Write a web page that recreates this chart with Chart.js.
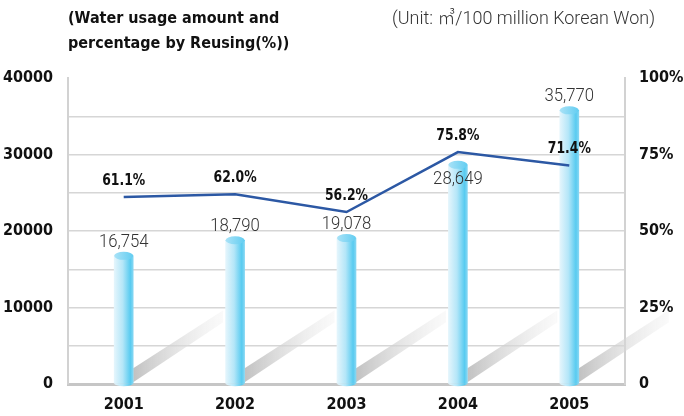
<!DOCTYPE html>
<html>
<head>
<meta charset="utf-8">
<script src="https://cdn.jsdelivr.net/npm/chart.js@4/dist/chart.umd.min.js"></script>
<style>
  html, body { margin: 0; padding: 0; background: #fff; }
  #wrap { position: relative; width: 684px; height: 416px; }
</style>
</head>
<body>
<div id="wrap"><canvas id="myChart" width="684" height="416"></canvas></div>
<script>
// data //
const years = ['2001', '2002', '2003', '2004', '2005'];
const waterUsage = [16754, 18790, 19078, 28649, 35770];
const reusePercent = [61.1, 62.0, 56.2, 75.8, 71.4];
const usageTicks = [0, 10000, 20000, 30000, 40000];
const percentTicks = [0, 25, 50, 75, 100];
const titleLines = ['(Water usage amount and', 'percentage by Reusing(%))'];
const unitText = '(Unit: ㎥/100 million Korean Won)';

const FONT = "'DejaVu Sans Condensed', 'Liberation Sans Narrow', sans-serif";
const LIGHT = "300 19px Roboto, 'Noto Sans CJK KR', sans-serif";
const LIGHT_UNIT = "300 18px Roboto, 'Noto Sans CJK KR', sans-serif";

function number(v) {
    return v.toLocaleString('en-US');
}

// text squeezed sideways, the original uses a narrow DIN-like face
function narrowText(ctx, text, x, y, sx) {
    ctx.save();
    ctx.translate(x, y);
    ctx.scale(sx, 1);
    ctx.fillText(text, 0, 0);
    ctx.restore();
}

// decorations: shadows, cylinder caps, labels, titles
const decoPlugin = {
    id: 'deco',
    beforeDatasetsDraw(chart) {
        const ctx = chart.ctx;
        const meta = chart.getDatasetMeta(0);
        ctx.save();
        meta.data.forEach(bar => {
            const x0 = bar.x + bar.width / 2;
            const y0 = bar.base - 1;
            const g = ctx.createLinearGradient(x0, 0, x0 + 90, 0);
            g.addColorStop(0, 'rgba(190,190,190,0.95)');
            g.addColorStop(1, 'rgba(238,238,238,0.3)');
            ctx.fillStyle = g;
            ctx.beginPath();
            ctx.moveTo(x0, y0);
            ctx.lineTo(x0, y0 - 14);
            ctx.lineTo(x0 + 90, y0 - 72);
            ctx.lineTo(x0 + 90, y0 - 60);
            ctx.closePath();
            ctx.fill();
        });
        ctx.restore();
    },
    afterDatasetDraw(chart, args) {
        if (args.index !== 0) return;
        const ctx = chart.ctx;
        const meta = chart.getDatasetMeta(0);
        ctx.save();
        meta.data.forEach(bar => {
            const r = bar.width / 2;
            // bottom rounding
            ctx.fillStyle = bar.options.backgroundColor;
            ctx.beginPath();
            ctx.ellipse(bar.x, bar.base, r, 3, 0, 0, Math.PI);
            ctx.fill();
            // top cap
            const g = ctx.createLinearGradient(bar.x - r, 0, bar.x + r, 0);
            g.addColorStop(0, '#a9e2f7');
            g.addColorStop(1, '#62cdf1');
            ctx.fillStyle = g;
            ctx.beginPath();
            ctx.ellipse(bar.x, bar.y, r, 4, 0, 0, Math.PI * 2);
            ctx.fill();
        });
        ctx.restore();
    },
    afterDatasetsDraw(chart, args, opts) {
        const ctx = chart.ctx;
        ctx.save();
        ctx.textAlign = 'center';

        // value labels above bars
        ctx.font = LIGHT;
        ctx.fillStyle = '#333';
        ctx.textBaseline = 'alphabetic';
        chart.getDatasetMeta(0).data.forEach((bar, i) => {
            narrowText(ctx, number(waterUsage[i]), bar.x, bar.y - 9 + opts.valueShift[i], 0.88);
        });

        // percentage labels above line points
        ctx.font = 'bold 15px ' + FONT;
        ctx.fillStyle = '#111';
        ctx.textBaseline = 'middle';
        chart.getDatasetMeta(1).data.forEach((pt, i) => {
            narrowText(ctx, reusePercent[i].toFixed(1) + '%', pt.x, pt.y - 16, 0.92);
        });

        // titles
        ctx.textAlign = 'left';
        ctx.font = 'bold 16px ' + FONT;
        ctx.fillStyle = '#111';
        ctx.fillText(titleLines[0], 68, 19);
        ctx.fillText(titleLines[1], 68, 44);
        ctx.textAlign = 'right';
        ctx.font = LIGHT_UNIT;
        ctx.fillStyle = '#333';
        const w = ctx.measureText(unitText).width;
        narrowText(ctx, unitText, 655, 19, Math.min(1, 263 / w));
        ctx.restore();
    }
};

document.addEventListener("DOMContentLoaded", function() {
    let ctx = document.getElementById('myChart').getContext('2d');
    let myChart = new Chart(ctx, {
        data: {
            labels: years,
            datasets: [
                {
                    type: 'bar',
                    label: 'Water usage',
                    data: waterUsage,
                    yAxisID: 'y',
                    order: 2,
                    barThickness: 19,
                    borderWidth: 0,
                    backgroundColor: function(c) {
                        const chart = c.chart;
                        if (!chart.chartArea) return '#9fdcf4';
                        const x = chart.scales.x.getPixelForValue(c.dataIndex);
                        const g = chart.ctx.createLinearGradient(x - 9.5, 0, x + 9.5, 0);
                        g.addColorStop(0, '#e4f5fc');
                        g.addColorStop(0.45, '#b4e6f8');
                        g.addColorStop(0.85, '#58cbf0');
                        g.addColorStop(1, '#86d7f3');
                        return g;
                    }
                },
                {
                    type: 'line',
                    label: 'Reusing (%)',
                    data: reusePercent,
                    yAxisID: 'y1',
                    order: 1,
                    borderColor: '#2c58a4',
                    borderWidth: 2.5,
                    pointRadius: 0,
                    tension: 0,
                    fill: false
                }
            ]
        },
        options: {
            responsive: false,
            animation: false,
            layout: { padding: { top: 78, left: 0, right: 0, bottom: 0 } },
            plugins: {
                legend: { display: false },
                tooltip: { enabled: false },
                deco: { valueShift: [0, 0, 0, 28, 0] }
            },
            scales: {
                x: {
                    grid: { display: false, drawTicks: false },
                    border: { color: '#c6c6c6', width: 3 },
                    ticks: {
                        color: '#111',
                        font: { family: FONT, size: 16, weight: 'bold' },
                        padding: 11
                    },
                    afterFit: s => { s.height = 32; }
                },
                y: {
                    position: 'left',
                    min: 0,
                    max: 40000,
                    afterBuildTicks: s => {
                        const t = [];
                        for (let v = 0; v <= 40000; v += 5000) t.push({ value: v });
                        s.ticks = t;
                    },
                    grid: {
                        drawTicks: false,
                        lineWidth: 1.5,
                        color: c => (c.tick.value === 0 || c.tick.value === 40000) ? 'rgba(0,0,0,0)' : '#d6d6d6'
                    },
                    border: { color: '#d2d2d2', width: 2 },
                    ticks: {
                        color: '#111',
                        font: { family: FONT, size: 16, weight: 'bold' },
                        padding: 15,
                        callback: v => usageTicks.includes(v) ? String(v) : ''
                    },
                    afterFit: s => { s.width = 68; }
                },
                y1: {
                    position: 'right',
                    min: 0,
                    max: 100,
                    afterBuildTicks: s => { s.ticks = percentTicks.map(v => ({ value: v })); },
                    grid: { drawOnChartArea: false, drawTicks: false },
                    border: { color: '#d2d2d2', width: 2 },
                    ticks: {
                        color: '#111',
                        font: { family: FONT, size: 16, weight: 'bold' },
                        padding: 14,
                        callback: v => v === 0 ? '0' : v + '%'
                    },
                    afterFit: s => { s.width = 59; }
                }
            }
        },
        plugins: [decoPlugin]
    });
});
</script>
</body>
</html>
